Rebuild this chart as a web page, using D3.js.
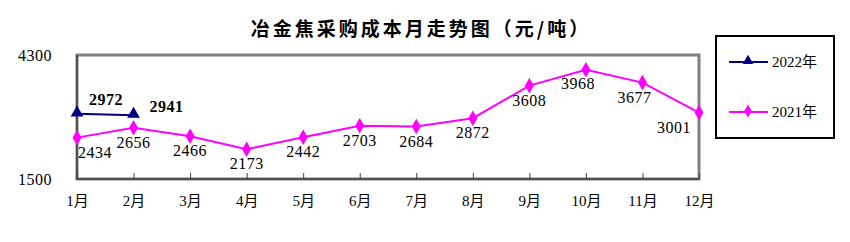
<!DOCTYPE html>
<html>
<head>
<meta charset="utf-8">
<script src="https://cdn.jsdelivr.net/npm/d3@7/dist/d3.min.js"></script>
<style>
  body { margin: 0; background: #fff; }
  svg text { font-family: "Liberation Serif", "Noto Sans CJK SC", serif; }
</style>
</head>
<body>
<div id="chart"></div>
<script>
// data
const months = ["1月", "2月", "3月", "4月", "5月", "6月", "7月", "8月", "9月", "10月", "11月", "12月"];
const values2022 = [2972, 2941];
const values2021 = [2434, 2656, 2466, 2173, 2442, 2703, 2684, 2872, 3608, 3968, 3677, 3001];
const yTicks = [1500, 4300];
const seriesNames = ["2022年", "2021年"];

const width = 850, height = 242;
const plot = { left: 77, right: 699, top: 55, bottom: 179 };

const svg = d3.select("#chart").append("svg")
    .attr("width", width)
    .attr("height", height);

const x = d3.scalePoint().domain(months).range([plot.left, plot.right]);
const y = d3.scaleLinear().domain([1500, 4300]).range([plot.bottom, plot.top]);

// title
svg.append("text")
    .attr("x", 421)
    .attr("y", 36)
    .attr("text-anchor", "middle")
    .style("font-family", "'Noto Sans CJK SC', sans-serif")
    .style("font-size", "19px")
    .style("font-weight", "bold")
    .style("letter-spacing", "3px")
    .text("冶金焦采购成本月走势图（元/吨）");

// plot frame
svg.append("rect")
    .attr("x", plot.left)
    .attr("y", plot.top)
    .attr("width", plot.right - plot.left)
    .attr("height", plot.bottom - plot.top)
    .attr("fill", "none")
    .attr("stroke", "#808080")
    .attr("stroke-width", 3);
svg.append("path")
    .attr("d", `M${plot.left},${plot.top}V${plot.bottom}H${plot.right}`)
    .attr("fill", "none")
    .attr("stroke", "#404040")
    .attr("stroke-width", 1.5);

// x axis: inward ticks + month labels
const xAxis = svg.append("g")
    .attr("transform", `translate(0,${plot.bottom})`)
    .call(d3.axisBottom(x).tickSize(-6).tickPadding(16));
xAxis.select(".domain").remove();
xAxis.selectAll(".tick line").attr("stroke", "#404040");
xAxis.selectAll(".tick text")
    .attr("fill", "#000")
    .style("font-family", "'Liberation Serif', 'Noto Sans CJK SC', serif")
    .style("font-size", "15px");

// y axis labels only
const yAxis = svg.append("g")
    .attr("transform", `translate(${plot.left - 25},0)`)
    .call(d3.axisLeft(y).tickValues(yTicks).tickFormat(d3.format("d")).tickSize(0).tickPadding(0));
yAxis.select(".domain").remove();
yAxis.selectAll(".tick text")
    .attr("fill", "#000")
    .attr("dy", "0.35em")
    .style("font-size", "16px")
    .style("letter-spacing", "0.5px");

const line = d3.line()
    .x((d, i) => x(months[i]))
    .y(d => y(d));

// 2021 series
svg.append("path")
    .datum(values2021)
    .attr("d", line)
    .attr("fill", "none")
    .attr("stroke", "#ff00ff")
    .attr("stroke-width", 2);

svg.append("g").selectAll("path")
    .data(values2021)
    .enter().append("path")
    .attr("d", d3.symbol(d3.symbolDiamond, 70))
    .attr("transform", (d, i) => `translate(${x(months[i])},${y(d)})`)
    .attr("fill", "#ff00ff");

svg.append("g").selectAll("text")
    .data(values2021)
    .enter().append("text")
    .attr("x", (d, i) => {
        const px = x(months[i]);
        if (i === 0) return px + 1;
        if (i === values2021.length - 1) return px - 8;
        if (i === 9 || i === 10) return px - 8;
        return px;
    })
    .attr("y", (d, i) => y(d) + (i === 9 ? 19 : 20))
    .attr("text-anchor", (d, i) => i === 0 ? "start" : (i === values2021.length - 1 ? "end" : "middle"))
    .style("font-size", "16px")
    .style("letter-spacing", "0.5px")
    .text(d => d);

// 2022 series
svg.append("path")
    .datum(values2022)
    .attr("d", line)
    .attr("fill", "none")
    .attr("stroke", "#000080")
    .attr("stroke-width", 2);

svg.append("g").selectAll("path")
    .data(values2022)
    .enter().append("path")
    .attr("d", d3.symbol(d3.symbolTriangle, 70))
    .attr("transform", (d, i) => `translate(${x(months[i])},${y(d) - 1})`)
    .attr("fill", "#000080");

svg.append("g").selectAll("text")
    .data(values2022)
    .enter().append("text")
    .attr("x", (d, i) => x(months[i]) + (i === 0 ? 29 : 33))
    .attr("y", (d, i) => y(d) - (i === 0 ? 9 : 3))
    .attr("text-anchor", "middle")
    .style("font-size", "16px")
    .style("font-weight", "bold")
    .style("letter-spacing", "0.5px")
    .text(d => d);

// legend
const legend = svg.append("g");
legend.append("rect")
    .attr("x", 716)
    .attr("y", 36)
    .attr("width", 118)
    .attr("height", 102)
    .attr("fill", "#fff")
    .attr("stroke", "#000")
    .attr("stroke-width", 2);

const legendItems = [
    { name: seriesNames[0], color: "#000080", symbol: d3.symbolTriangle, y: 62 },
    { name: seriesNames[1], color: "#ff00ff", symbol: d3.symbolDiamond, y: 112 }
];
legendItems.forEach(item => {
    legend.append("line")
        .attr("x1", 729).attr("x2", 768)
        .attr("y1", item.y).attr("y2", item.y)
        .attr("stroke", item.color)
        .attr("stroke-width", 2);
    legend.append("path")
        .attr("d", d3.symbol(item.symbol, 50))
        .attr("transform", `translate(748,${item.y - 1})`)
        .attr("fill", item.color);
    legend.append("text")
        .attr("x", 772)
        .attr("y", item.y + 5)
        .style("font-size", "15px")
        .text(item.name);
});
</script>
</body>
</html>
